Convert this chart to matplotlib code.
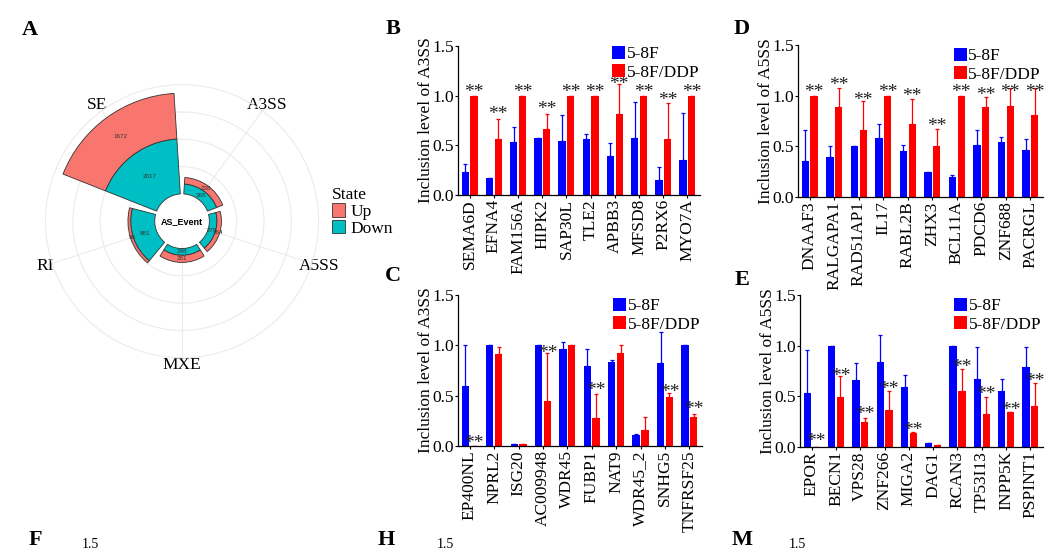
import matplotlib.pyplot as plt
import numpy as np
from matplotlib.patches import Patch

plt.rcParams['font.family'] = ['Liberation Serif', 'DejaVu Serif']

# ---- panel A: AS events (polar stacked bar)
cats = ['A3SS', 'A5SS', 'MXE', 'RI', 'SE']
n_down = [365, 279, 248, 881, 2017]
n_up = [238, 164, 261, 99, 1672]

# ---- panel B: A3SS (up)
genes_b = ['SEMA6D', 'EFNA4', 'FAM156A', 'HIPK2', 'SAP30L', 'TLE2', 'APBB3', 'MFSD8', 'P2RX6', 'MYO7A']
blue_b = [0.23, 0.17, 0.53, 0.57, 0.54, 0.56, 0.39, 0.57, 0.15, 0.35]
blue_b_err = [0.08, 0, 0.15, 0, 0.27, 0.05, 0.13, 0.37, 0.13, 0.48]
red_b = [1.0, 0.56, 1.0, 0.66, 1.0, 1.0, 0.82, 1.0, 0.56, 1.0]
red_b_err = [0, 0.21, 0, 0.16, 0, 0, 0.30, 0, 0.37, 0]
star_b = [1.08, 0.855, 1.08, 0.905, 1.08, 1.08, 1.16, 1.08, 1.0, 1.08]

# ---- panel C: A3SS (down)
genes_c = ['EP400NL', 'NPRL2', 'ISG20', 'AC009948', 'WDR45', 'FUBP1', 'NAT9', 'WDR45_2', 'SNHG5', 'TNFRSF25']
blue_c = [0.60, 1.0, 0.016, 1.0, 0.96, 0.79, 0.83, 0.11, 0.82, 1.0]
blue_c_err = [0.40, 0, 0, 0, 0.07, 0.17, 0.02, 0.01, 0.31, 0]
red_c = [0.0, 0.91, 0.016, 0.45, 1.0, 0.28, 0.92, 0.16, 0.49, 0.29]
red_c_err = [0, 0.07, 0, 0.47, 0, 0.24, 0.08, 0.13, 0.04, 0.03]
star_c = [0.07, None, None, 0.96, None, 0.60, None, None, 0.58, 0.41]

# ---- panel D: A5SS (up)
genes_d = ['DNAAF3', 'RALGAPA1', 'RAD51AP1', 'IL17', 'RABL2B', 'ZHX3', 'BCL11A', 'PDCD6', 'ZNF688', 'PACRGL']
blue_d = [0.36, 0.39, 0.50, 0.58, 0.45, 0.25, 0.20, 0.51, 0.54, 0.46]
blue_d_err = [0.30, 0.11, 0, 0.14, 0.06, 0, 0.02, 0.15, 0.05, 0.11]
red_d = [1.0, 0.89, 0.66, 1.0, 0.72, 0.50, 1.0, 0.89, 0.90, 0.81]
red_d_err = [0, 0.19, 0.29, 0, 0.25, 0.17, 0, 0.10, 0.18, 0.27]
star_d = [1.08, 1.15, 1.0, 1.08, 1.04, 0.74, 1.08, 1.05, 1.08, 1.08]

# ---- panel E: A5SS (down)
genes_e = ['EPOR', 'BECN1', 'VPS28', 'ZNF266', 'MIGA2', 'DAG1', 'RCAN3', 'TP53I13', 'INPP5K', 'PSPINT1']
blue_e = [0.535, 1.0, 0.66, 0.84, 0.59, 0.043, 1.0, 0.67, 0.555, 0.79]
blue_e_err = [0.42, 0, 0.17, 0.27, 0.12, 0, 0, 0.32, 0.115, 0.20]
red_e = [0.0, 0.49, 0.25, 0.37, 0.14, 0.023, 0.55, 0.33, 0.35, 0.40]
red_e_err = [0, 0.21, 0.04, 0.18, 0.01, 0, 0.22, 0.16, 0, 0.23]
star_e = [0.10, 0.74, 0.37, 0.61, 0.21, None, 0.83, 0.56, 0.41, 0.69]

BLUE = '#0000ff'
RED = '#ff0000'
FS = 12.5
STAR_FS = 14

fig = plt.figure(figsize=(10.64, 5.52), dpi=100)


def bar_panel(rect, genes, blue, blue_err, red, red_err, stars, ylabel, leg_y):
    ax = fig.add_axes(rect)
    x = np.arange(len(genes))
    ax.bar(x + 0.3, blue, 0.3, color=BLUE, label='5-8F', zorder=2)
    ax.bar(x + 0.66, red, 0.3, color=RED, label='5-8F/DDP', zorder=2)
    ax.errorbar(x + 0.3, blue, yerr=[np.zeros(len(x)), blue_err], fmt='none',
                ecolor=BLUE, elinewidth=0.9, capsize=1.5, capthick=0.9, zorder=1)
    ax.errorbar(x + 0.66, red, yerr=[np.zeros(len(x)), red_err], fmt='none',
                ecolor=RED, elinewidth=0.9, capsize=1.5, capthick=0.9, zorder=1)
    for xi, s in zip(x, stars):
        if s is None:
            continue
        ax.annotate('**', (xi + 0.66, s), xytext=(0, -0.47 * STAR_FS), textcoords='offset points',
                    ha='center', va='baseline', fontsize=STAR_FS, color='#222222')
    ax.set_xlim(0, 10)
    ax.set_ylim(0, 1.5)
    ax.set_yticks([0, 0.5, 1.0, 1.5])
    ax.set_yticklabels(['0.0', '0.5', '1.0', '1.5'], fontsize=FS)
    ax.set_xticks(x + 0.48)
    ax.set_xticklabels(genes, rotation=90, fontsize=FS)
    ax.tick_params(axis='both', length=2.5, width=0.8, pad=0.5)
    for sp in ['top', 'right']:
        ax.spines[sp].set_visible(False)
    for sp in ['left', 'bottom']:
        ax.spines[sp].set_linewidth(0.9)
    ax.set_ylabel(ylabel, fontsize=FS, labelpad=-1)
    ax.legend(loc='upper left', bbox_to_anchor=(0.635, leg_y), frameon=False, fontsize=FS,
              handlelength=0.75, handleheight=0.75, handletextpad=0.1, labelspacing=0.1,
              borderaxespad=0, borderpad=0)
    return ax


bar_panel([0.4305, 0.6467, 0.2274, 0.2699], genes_b, blue_b, blue_b_err, red_b, red_b_err,
          star_b, 'Inclusion level of A3SS', 1.0)
bar_panel([0.75, 0.6431, 0.2303, 0.2754], genes_d, blue_d, blue_d_err, red_d, red_d_err,
          star_d, 'Inclusion level of A5SS', 0.98)
bar_panel([0.4305, 0.192, 0.2293, 0.2736], genes_c, blue_c, blue_c_err, red_c, red_c_err,
          star_c, 'Inclusion level of A3SS', 0.98)
bar_panel([0.7519, 0.1902, 0.2284, 0.2754], genes_e, blue_e, blue_e_err, red_e, red_e_err,
          star_e, 'Inclusion level of A5SS', 0.98)

# ---- polar panel A
UP_C = '#F8766D'
DOWN_C = '#00BFC4'
pax = fig.add_axes([0.0376, 0.342, 0.267, 0.5145], projection='polar')
pax.set_theta_zero_location('N')
pax.set_theta_direction(-1)
theta = np.deg2rad((np.arange(len(cats)) + 0.5) * 360 / len(cats))
w = np.deg2rad(0.9 * 360 / len(cats))
down = np.array(n_down)
up = np.array(n_up)
pax.bar(theta, down, w, bottom=0, color=DOWN_C, edgecolor='#333333', linewidth=0.6, zorder=2)
pax.bar(theta, up, w, bottom=down, color=UP_C, edgecolor='#333333', linewidth=0.6, zorder=2)
pax.bar(0, 830, 2 * np.pi, bottom=-1000, color='white', edgecolor='none', zorder=3)
for t, d, u in zip(theta, down, up):
    pax.text(t, d / 2, str(d), ha='center', va='center', fontsize=4.5,
             family='Liberation Sans', color='#333333', zorder=4)
    pax.text(t, d + u / 2, str(u), ha='center', va='center', fontsize=4.5,
             family='Liberation Sans', color='#333333', zorder=4)
pax.text(0, -1000, 'AS_Event', ha='center', va='center', fontsize=6.5,
         family='Liberation Sans', fontweight='bold', zorder=4)
pax.set_ylim(-1000, 4200)
pax.set_yticks([1000, 2000, 3000, 4000])
pax.set_yticklabels([])
pax.set_xticks(theta)
pax.set_xticklabels(cats, fontsize=12.5)
pax.tick_params(axis='x', pad=-9)
pax.grid(color='#EBEBEB', linewidth=0.8)
pax.spines['polar'].set_visible(False)

fig.legend(handles=[Patch(facecolor=UP_C, edgecolor='#333333', linewidth=0.6),
                    Patch(facecolor=DOWN_C, edgecolor='#333333', linewidth=0.6)],
           labels=['Up', 'Down'], title='State', loc='upper left',
           bbox_to_anchor=(323 / 1064, 1 - 178 / 552), frameon=False, fontsize=12.5,
           title_fontsize=12.5, handlelength=0.75, handleheight=0.85, handletextpad=0.35,
           labelspacing=0.0, borderpad=0, alignment='left')

# panel letters
for lab, px, py in [('A', 30, 30), ('B', 393, 29), ('D', 742, 29), ('C', 393, 276),
                    ('E', 742, 280), ('F', 35, 540), ('H', 386, 540), ('M', 742, 540)]:
    fig.text(px / 1064, 1 - py / 552, lab, fontsize=16, fontweight='bold', ha='center', va='center')

# tops of the next row of panels
for px in [90, 445, 797]:
    fig.text(px / 1064, 1 / 552, '1.5', fontsize=10, ha='center', va='bottom')

fig.savefig('out.png', dpi=100)
